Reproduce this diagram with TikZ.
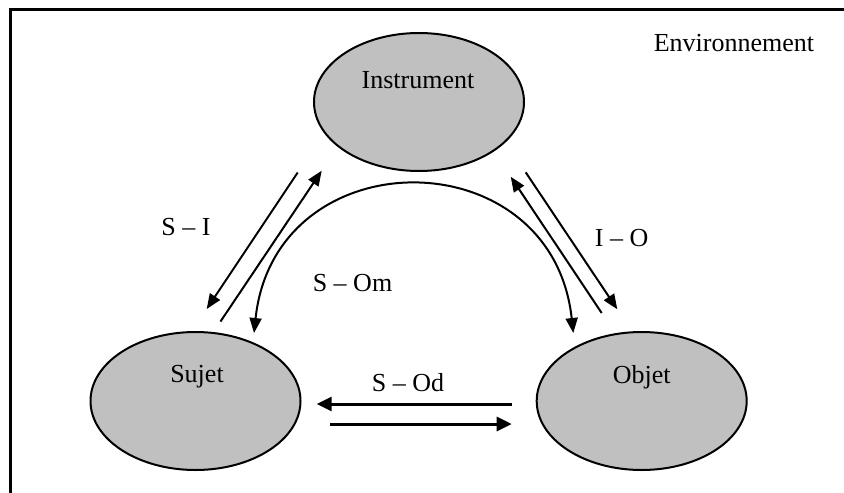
\documentclass[tikz,border=0pt]{standalone}
\usepackage{fontspec}
\setmainfont{Liberation Serif}
\usetikzlibrary{shapes.geometric,arrows.meta}
\definecolor{ellfill}{HTML}{C0C0C0}
\tikzset{
  ell/.style={ellipse, draw=black, line width=2pt, fill=ellfill, minimum width=210pt, minimum height=138pt, inner sep=0pt},
  lbl/.style={font=\fontsize{26}{30}\selectfont, inner sep=0pt, anchor=center},
  arr/.style={line width=2pt, -{Triangle[length=15pt,width=12pt]}},
  darr/.style={line width=2pt, {Triangle[length=15pt,width=12pt]}-{Triangle[length=15pt,width=12pt]}},
  harr/.style={line width=3pt, -{Triangle[length=15pt,width=14pt]}}
}
\begin{document}
\begin{tikzpicture}[x=1pt,y=-1pt]
\useasboundingbox (0,0) rectangle (844,493);
\begin{scope}
\clip (0,0) rectangle (844,493);
\draw[line width=3pt] (10,9) rectangle (880,530);
\end{scope}
\node[lbl] (env) at (734,43) {Environnement};
% ellipses
\node[ell] (ins) at (419,102) {};
\node[ell] (suj) at (195.5,401) {};
\node[ell] (obj) at (641.7,401) {};
\node[lbl] (insT) at (418,80) {Instrument};
\node[lbl] (sujT) at (197,377) {Sujet};
\node[lbl] (objT) at (641.7,377) {Objet};
% S-I arrows
\coordinate (si1a) at (297.7,172.5);
\coordinate (si1b) at (206.7,309);
\coordinate (si2a) at (220.5,321.5);
\coordinate (si2b) at (321.7,170.7);
\draw[arr] (si1a) -- (si1b);
\draw[arr] (si2a) -- (si2b);
% I-O arrows
\coordinate (io1a) at (601.7,313);
\coordinate (io1b) at (510.7,176.7);
\coordinate (io2a) at (525.7,172.3);
\coordinate (io2b) at (617.3,309.3);
\draw[arr] (io1a) -- (io1b);
\draw[arr] (io2a) -- (io2b);
% S-Om arc
\coordinate (oma) at (573.3,333);
\coordinate (omb) at (254,333);
\draw[darr] (oma) .. controls (552,137) and (275,137) .. (omb);
% S-Od arrows
\coordinate (od1a) at (511.7,404);
\coordinate (od1b) at (316.7,404);
\coordinate (od2a) at (330,424);
\coordinate (od2b) at (511.7,424);
\draw[harr] (od1a) -- (od1b);
\draw[harr] (od2a) -- (od2b);
% labels
\node[lbl] (siL) at (186,227) {S -- I};
\node[lbl] (ioL) at (621.6,238) {I -- O};
\node[lbl] (omL) at (352.5,283) {S -- Om};
\node[lbl] (odL) at (408,383) {S -- Od};
\end{tikzpicture}
\end{document}
